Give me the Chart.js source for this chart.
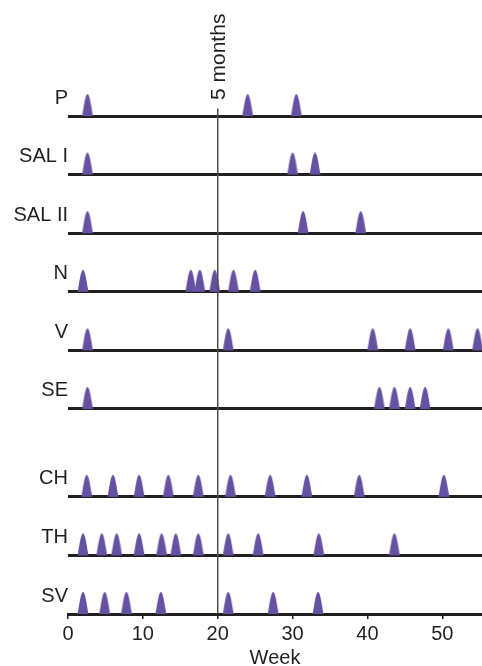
<!DOCTYPE html>
<html>
<head>
<meta charset="utf-8">
<script src="https://cdn.jsdelivr.net/npm/chart.js@4/dist/chart.umd.min.js"></script>
<style>
  html, body { margin: 0; padding: 0; background: #fff; }
  #wrap { width: 482px; height: 666px; position: relative; }
</style>
</head>
<body>
<div id="wrap"><canvas id="c" width="482" height="666"></canvas></div>
<script>
// ---- data (weeks of each dose / peak) ----
const rowNames  = ['P', 'SAL I', 'SAL II', 'N', 'V', 'SE', 'CH', 'TH', 'SV'];
const rowLevels = [8.5, 7.5, 6.5, 5.5, 4.5, 3.5, 2, 1, 0];
const weeksP     = [2.6, 24.0, 30.5];
const weeksSALI  = [2.6, 30.0, 33.0];
const weeksSALII = [2.6, 31.4, 39.1];
const weeksN     = [2.0, 16.4, 17.6, 19.6, 22.1, 25.0];
const weeksV     = [2.6, 21.4, 40.7, 45.7, 50.8, 54.7];
const weeksSE    = [2.6, 41.6, 43.6, 45.7, 47.7];
const weeksCH    = [2.5, 6.0, 9.5, 13.4, 17.4, 21.7, 27.0, 31.9, 38.9, 50.2];
const weeksTH    = [2.0, 4.5, 6.5, 9.5, 12.5, 14.4, 17.4, 21.4, 25.4, 33.5, 43.6];
const weeksSV    = [2.0, 4.9, 7.8, 12.4, 21.4, 27.4, 33.4];
const rowWeeks = [weeksP, weeksSALI, weeksSALII, weeksN, weeksV, weeksSE, weeksCH, weeksTH, weeksSV];
const markerWeek = 20;
const markerLabel = '5 months';
const xTitle = 'Week';

// ---- peak glyph ----
const PURPLE = '#6451a2';
function makePeak() {
  const c = document.createElement('canvas');
  c.width = 14; c.height = 46;
  const g = c.getContext('2d');
  const base = 23, H = 22, cx = 7, hw = 5.6;
  g.beginPath();
  g.moveTo(cx - hw, base);
  for (let i = 0; i <= 80; i++) {
    const u = -1 + 2 * i / 80;
    const v = Math.pow(1 - u * u, 1.35);
    g.lineTo(cx + u * hw, base - H * v);
  }
  g.closePath();
  g.fillStyle = PURPLE;
  g.fill();
  return c;
}
const peakImg = makePeak();

const FONT = "'Liberation Sans', Arial, Helvetica, sans-serif";
const TXT = '#231f20';

const datasets = rowWeeks.map((ws, i) => ({
  type: 'scatter',
  label: rowNames[i],
  data: ws.map(w => ({ x: w, y: rowLevels[i] })),
  pointStyle: peakImg,
  pointRadius: 5,
  pointHoverRadius: 5,
  order: 2
}));
datasets.push({
  type: 'line',
  label: markerLabel,
  data: [{ x: markerWeek, y: 0 }, { x: markerWeek, y: 8.63 }],
  borderColor: '#4d4d4d',
  borderWidth: 1.5,
  pointRadius: 0,
  order: 1
});

const markerText = {
  id: 'markerText',
  afterDatasetsDraw(chart) {
    const ctx = chart.ctx;
    const x = chart.scales.x.getPixelForValue(markerWeek);
    ctx.save();
    ctx.translate(x, 100);
    ctx.rotate(-Math.PI / 2);
    ctx.font = '21px ' + FONT;
    ctx.fillStyle = TXT;
    ctx.textAlign = 'left';
    ctx.textBaseline = 'middle';
    ctx.fillText(markerLabel, 0, 1.5);
    ctx.restore();
  }
};

new Chart(document.getElementById('c'), {
  data: { datasets },
  options: {
    responsive: false,
    animation: false,
    events: [],
    layout: { autoPadding: false, padding: { top: 0, right: 0, bottom: 0, left: 0 } },
    plugins: { legend: { display: false }, tooltip: { enabled: false } },
    scales: {
      x: {
        type: 'linear',
        position: 'bottom',
        min: 0,
        max: 55.3,
        border: { display: true, color: '#231f20', width: 3 },
        grid: { display: true, drawOnChartArea: false, drawTicks: true, tickLength: 5, color: '#231f20', lineWidth: 1.5 },
        ticks: { stepSize: 10, includeBounds: false, maxRotation: 0, padding: 3, color: TXT, font: { family: FONT, size: 20 } },
        title: { display: true, text: xTitle, color: TXT, font: { family: FONT, size: 20, lineHeight: 1 }, padding: { top: 0, bottom: -2 } },
        afterFit(s) { s.height = 52; s.paddingLeft = 0; s.paddingRight = 0; }
      },
      y: {
        type: 'linear',
        position: 'left',
        min: 0,
        max: 10.48,
        border: { display: false },
        grid: { display: true, drawOnChartArea: true, drawTicks: false, color: '#231f20', lineWidth: 3 },
        afterBuildTicks(s) { s.ticks = rowLevels.map(v => ({ value: v })); },
        ticks: {
          padding: 0,
          labelOffset: -18,
          color: TXT,
          font: { family: FONT, size: 20 },
          callback(v) { const i = rowLevels.indexOf(v); return i >= 0 ? rowNames[i] : ''; }
        },
        afterFit(s) { s.width = 68; s.paddingTop = 0; s.paddingBottom = 0; }
      }
    }
  },
  plugins: [markerText]
});
</script>
</body>
</html>
